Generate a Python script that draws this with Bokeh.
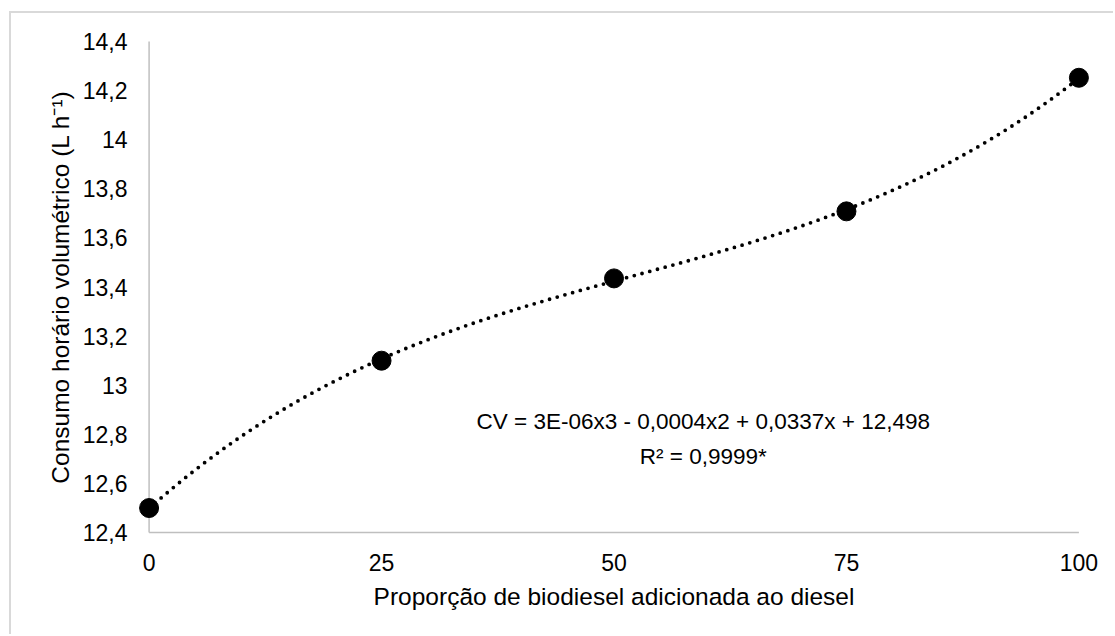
import numpy as np
from bokeh.plotting import figure
from bokeh.models import FixedTicker, Label, ColumnDataSource
from bokeh.embed import file_html
from bokeh.resources import INLINE

# ---- data ----
proportion = [0, 25, 50, 75, 100]
consumption = [12.50, 13.10, 13.435, 13.708, 14.252]
x_ticks = [0, 25, 50, 75, 100]
x_tick_labels = ["0", "25", "50", "75", "100"]
y_ticks = [12.4, 12.6, 12.8, 13.0, 13.2, 13.4, 13.6, 13.8, 14.0, 14.2, 14.4]
y_tick_labels = ["12,4", "12,6", "12,8", "13", "13,2", "13,4", "13,6", "13,8", "14", "14,2", "14,4"]
equation_text = "CV = 3E-06x3 - 0,0004x2 + 0,0337x + 12,498"
r2_text = "R² = 0,9999*"
x_title = "Proporção de biodiesel adicionada ao diesel"
y_title = "Consumo horário volumétrico (L h⁻¹)"

FONT = "Liberation Sans"

# cubic trendline fitted from the data points
coef = np.polyfit(proportion, consumption, 3)
xt = np.linspace(min(proportion), max(proportion), 300)
yt = np.polyval(coef, xt)

p = figure(width=1104, height=623, output_backend="svg", toolbar_location=None,
           x_range=(-2, 102), y_range=(12.38, 14.42),
           min_border_left=119, min_border_right=18, min_border_top=23, min_border_bottom=99)
p.styles = {"margin-left": "9px", "margin-top": "11px",
            "border-left": "2px solid #d9d9d9", "border-top": "2px solid #d9d9d9"}
p.outline_line_color = None
p.grid.grid_line_color = None
p.background_fill_color = "white"

# axis lines drawn in data space so markers at the edges are not clipped
p.segment(x0=[x_ticks[0], x_ticks[0]], y0=[y_ticks[0], y_ticks[0]],
          x1=[x_ticks[-1], x_ticks[0]], y1=[y_ticks[0], y_ticks[-1]],
          line_color="#bfbfbf", line_width=1.5)

p.line(xt, yt, line_color="black", line_width=3.8, line_dash="0 8", line_cap="round")
src = ColumnDataSource(dict(x=proportion, y=consumption))
p.scatter("x", "y", source=src, size=19, fill_color="black", line_color="black")

for ax in (p.xaxis[0], p.yaxis[0]):
    ax.axis_line_color = None
    ax.major_tick_line_color = None
    ax.minor_tick_line_color = None
    ax.major_label_text_font = FONT
    ax.major_label_text_font_size = "23px"
    ax.major_label_text_color = "black"
    ax.axis_label_text_font = FONT
    ax.axis_label_text_font_size = "24.5px"
    ax.axis_label_text_font_style = "normal"
    ax.axis_label_text_color = "black"

p.xaxis.ticker = FixedTicker(ticks=x_ticks)
p.xaxis.major_label_overrides = dict(zip(x_ticks, x_tick_labels))
p.xaxis.major_label_standoff = 10
p.xaxis.axis_label = x_title
p.xaxis.axis_label_standoff = 9

p.yaxis.ticker = FixedTicker(ticks=y_ticks)
p.yaxis.major_label_overrides = dict(zip(y_ticks, y_tick_labels))
p.yaxis.major_label_standoff = -3
p.yaxis.axis_label = y_title
p.yaxis.axis_label_standoff = 6

p.add_layout(Label(x=59.6, y=12.852, text=equation_text, text_align="center",
                   text_baseline="middle", text_font=FONT, text_font_size="22.5px",
                   text_color="black"))
p.add_layout(Label(x=59.6, y=12.71, text=r2_text, text_align="center",
                   text_baseline="middle", text_font=FONT, text_font_size="22.5px",
                   text_color="black"))

open("out.html", "w").write(file_html(p, INLINE))
